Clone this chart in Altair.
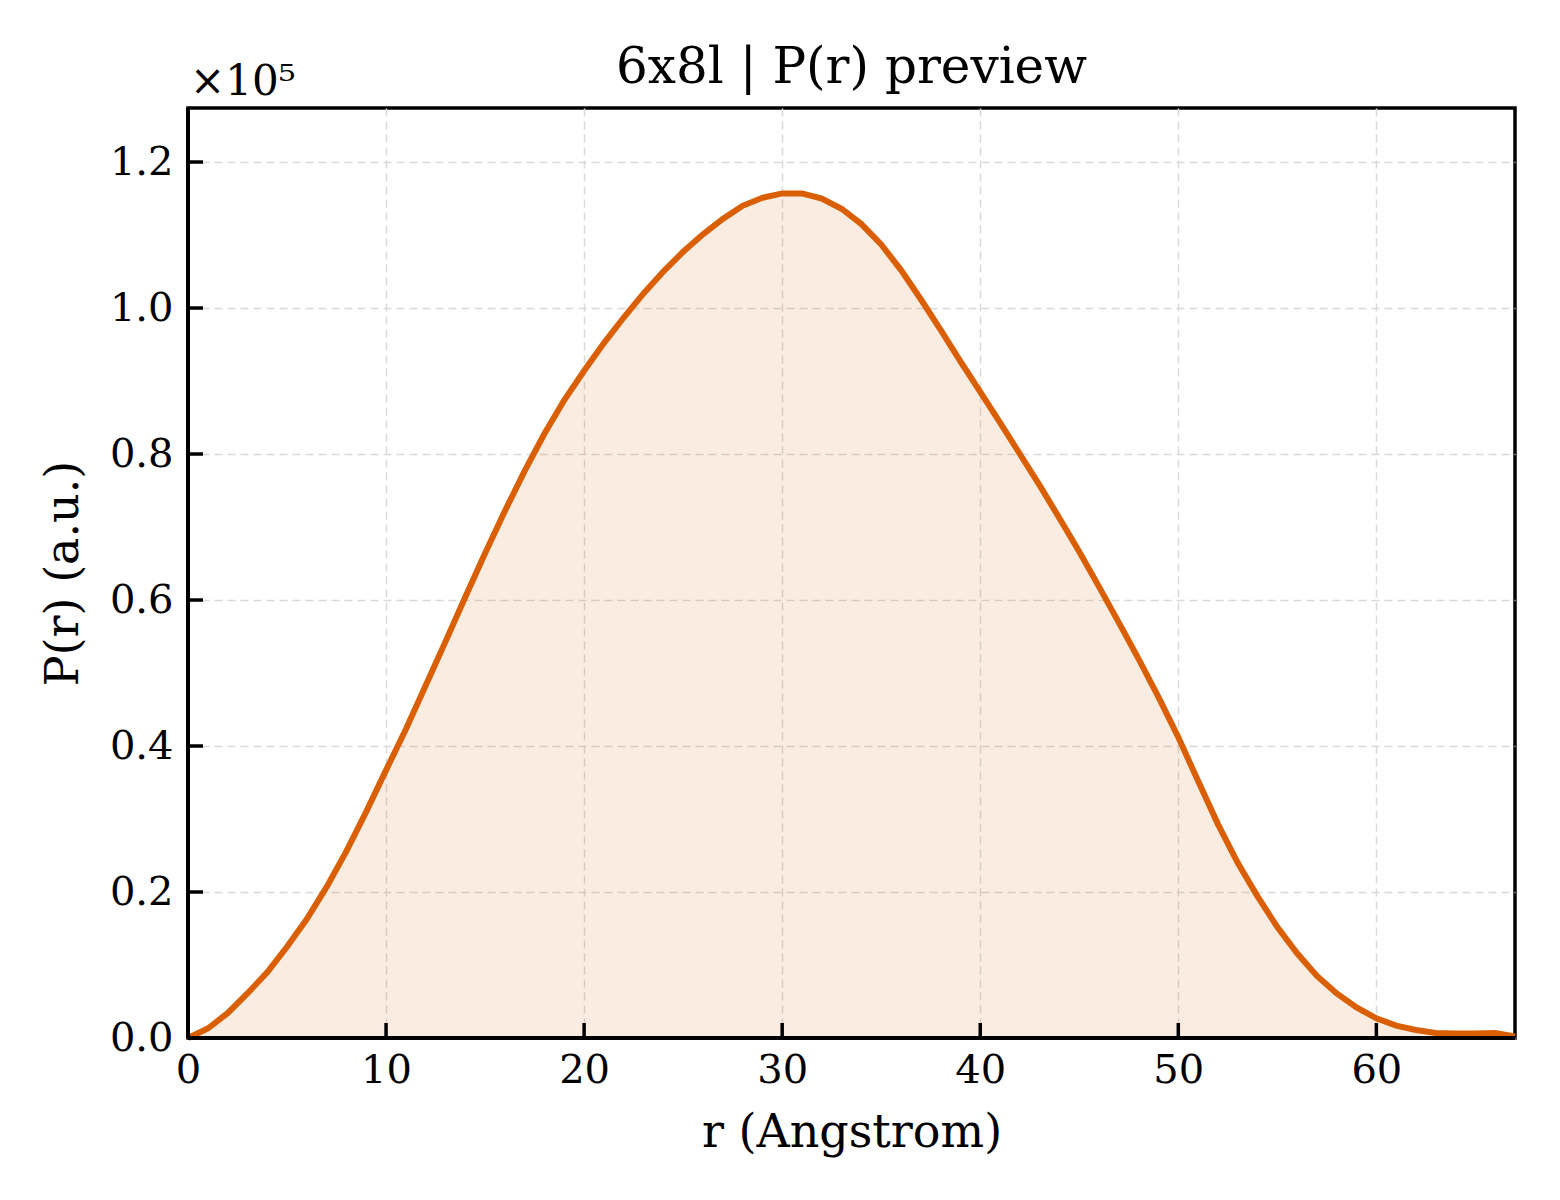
import altair as alt
import pandas as pd

# P(r) preview for 6x8l, values read in units of 1e5
r_vals = list(range(0, 68))
p_vals = [
    0.000, 0.013, 0.034, 0.061, 0.090, 0.125, 0.163, 0.207, 0.256, 0.310,
    0.367, 0.423, 0.483, 0.543, 0.604, 0.664, 0.722, 0.777, 0.828, 0.874,
    0.914, 0.952, 0.987, 1.020, 1.050, 1.077, 1.101, 1.122, 1.140, 1.151,
    1.157, 1.157, 1.150, 1.136, 1.115, 1.087, 1.052, 1.012, 0.970, 0.927,
    0.885, 0.843, 0.800, 0.757, 0.712, 0.666, 0.618, 0.569, 0.519, 0.467,
    0.412, 0.352, 0.293, 0.240, 0.194, 0.152, 0.116, 0.085, 0.061, 0.042,
    0.027, 0.017, 0.011, 0.007, 0.006, 0.006, 0.007, 0.002,
]
x_ticks = [0, 10, 20, 30, 40, 50, 60]
y_ticks = [0.0, 0.2, 0.4, 0.6, 0.8, 1.0, 1.2]
title_text = "6x8l | P(r) preview"
offset_text = "×10⁵"

FONT = "DejaVu Serif"
LINE = "#d95f02"
W, H = 1327, 930

df = pd.DataFrame({"r": r_vals, "P": p_vals})
xs = alt.Scale(domain=[0, 67], nice=False, zero=False)
ys = alt.Scale(domain=[0, 1.274], nice=False)

X = alt.X("r:Q", scale=xs, title="r (Angstrom)",
          axis=alt.Axis(values=x_ticks, format="d"))
Y = alt.Y("P:Q", scale=ys, title="P(r) (a.u.)",
          axis=alt.Axis(values=y_ticks, format=".1f"))

base = alt.Chart(df)
area = base.mark_area(color=LINE, opacity=0.12).encode(x=X, y=Y)
line = base.mark_line(color=LINE, strokeWidth=6).encode(x=X, y=Y)

# inward ticks drawn as rules
xt = alt.Chart(pd.DataFrame({"r": x_ticks})).mark_rule(color="black", strokeWidth=3.5).encode(
    x=X, y=alt.value(H), y2=alt.value(H - 15),
)
yt = alt.Chart(pd.DataFrame({"P": y_ticks})).mark_rule(color="black", strokeWidth=3.5).encode(
    y=Y, x=alt.value(0), x2=alt.value(15),
)

# left and bottom spines on top of the grid
spine_l = base.mark_rule(color="black", strokeWidth=3.5).encode(
    x=alt.value(0), y=alt.value(0), y2=alt.value(H))
spine_b = base.mark_rule(color="black", strokeWidth=3.5).encode(
    x=alt.value(0), x2=alt.value(W), y=alt.value(H))

offset_lbl = alt.Chart(pd.DataFrame({"t": [offset_text]})).mark_text(
    font=FONT, fontSize=42, align="left", baseline="alphabetic", color="black"
).encode(x=alt.value(2), y=alt.value(-13), text="t:N")

title_lbl = alt.Chart(pd.DataFrame({"t": [title_text]})).mark_text(
    font=FONT, fontSize=50, align="center", baseline="alphabetic", color="black"
).encode(x=alt.value(W / 2), y=alt.value(-25), text="t:N")

chart = alt.layer(area, line, xt, yt, spine_l, spine_b, offset_lbl, title_lbl).properties(
    width=W,
    height=H,
    autosize=alt.AutoSizeParams(type="none"),
    padding={"left": 180, "top": 100, "right": 37, "bottom": 154},
).configure_view(
    stroke="black", strokeWidth=3.5
).configure_axis(
    labelFont=FONT, titleFont=FONT, labelFontSize=40, titleFontSize=46,
    labelColor="black", titleColor="black", titleFontWeight="normal",
    domain=False, ticks=False, labelPadding=14, labelFlush=False,
    grid=True, gridColor="#d9d9d9", gridDash=[8, 5], gridWidth=1.5,
).configure_axisX(
    titlePadding=20, labelPadding=12
).configure_axisY(
    titlePadding=22, labelPadding=15
)

chart.save("out.html", embed_options={"renderer": "svg", "actions": False})
